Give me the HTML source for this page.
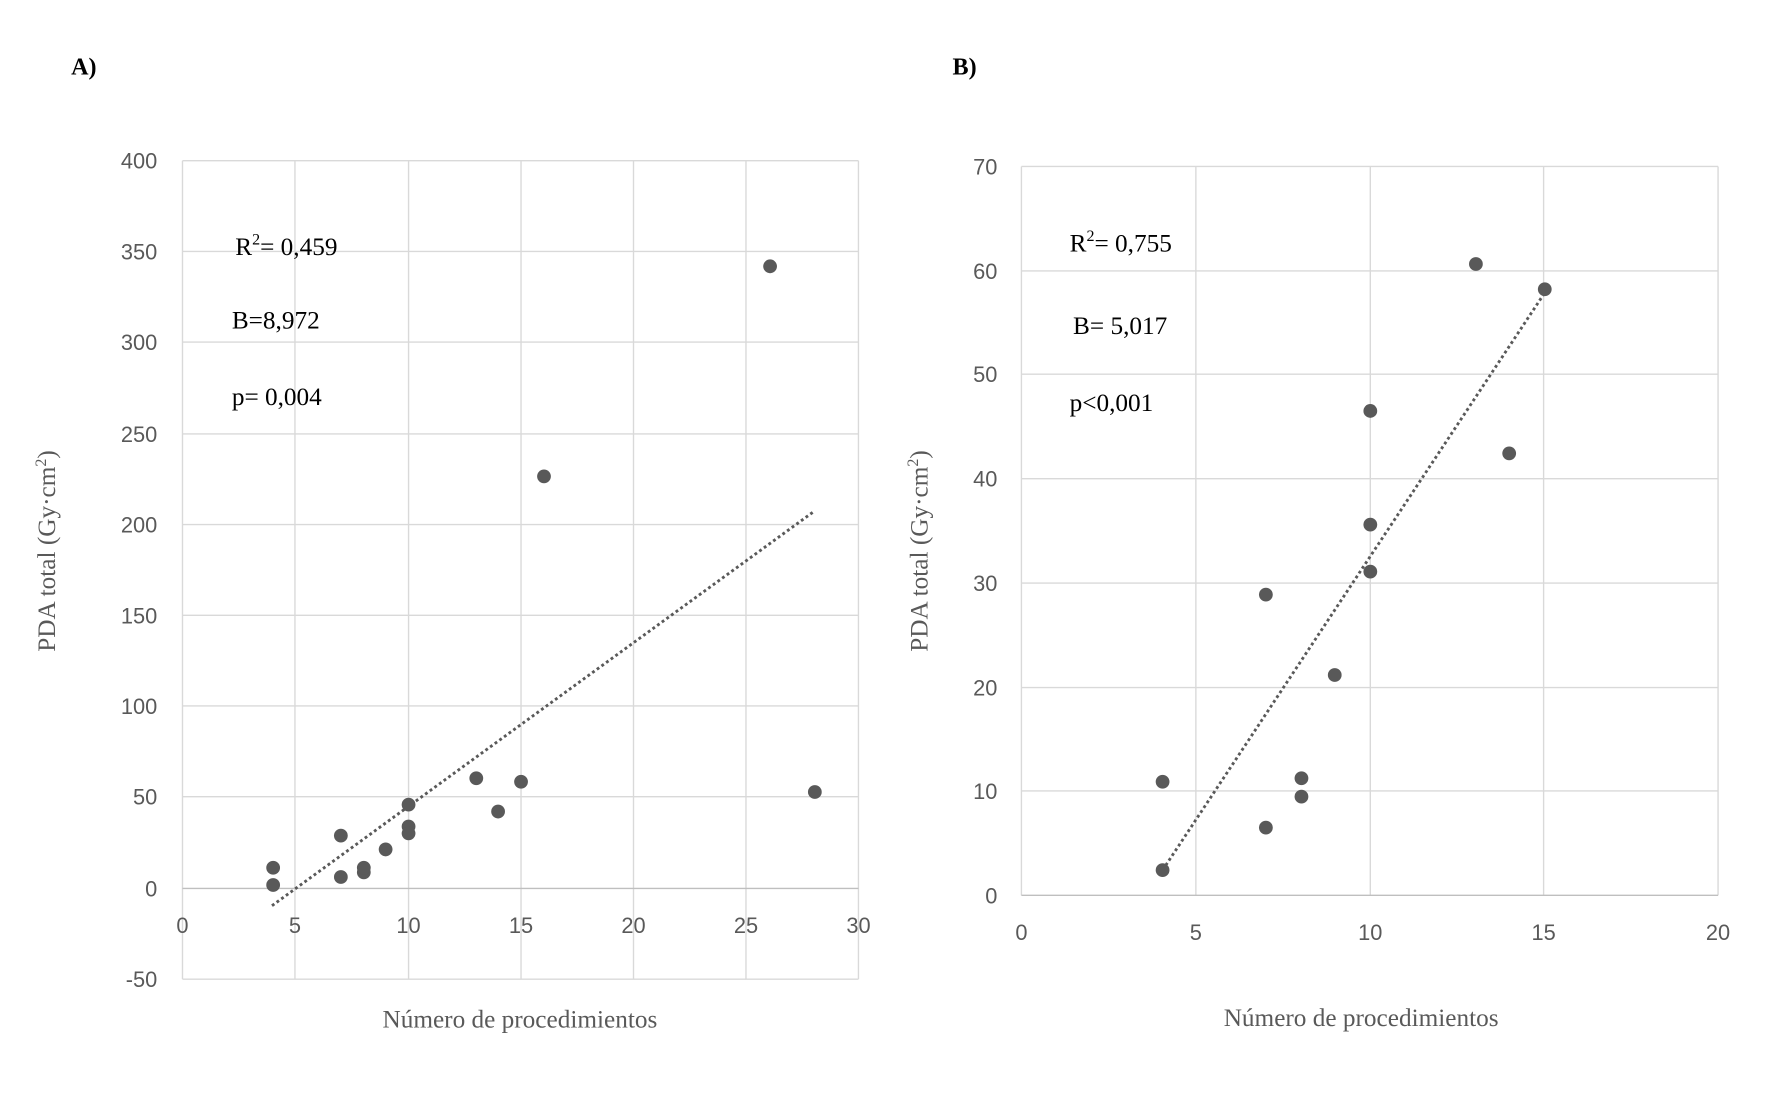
<!DOCTYPE html>
<html><head><meta charset="utf-8"><style>html,body{margin:0;padding:0;background:#fff;}svg{display:block}</style></head>
<body>
<svg width="1772" height="1110" viewBox="0 0 1544 967" preserveAspectRatio="none" xmlns="http://www.w3.org/2000/svg">
<rect width="1544" height="967" fill="#fff"/>
<g font-family="Liberation Serif, serif" font-weight="bold" font-size="21" fill="#000">
<text x="62" y="65">A)</text><text x="830" y="65">B)</text>
</g>
<!-- Chart A -->
<g stroke="#d9d9d9" stroke-width="1.2" fill="none">
<line x1="159" y1="140" x2="748" y2="140"/><line x1="159" y1="219" x2="748" y2="219"/><line x1="159" y1="298" x2="748" y2="298"/><line x1="159" y1="378" x2="748" y2="378"/><line x1="159" y1="457" x2="748" y2="457"/><line x1="159" y1="536" x2="748" y2="536"/><line x1="159" y1="615" x2="748" y2="615"/><line x1="159" y1="694" x2="748" y2="694"/><line x1="159" y1="853" x2="748" y2="853"/>
<line x1="159" y1="140" x2="159" y2="853"/><line x1="257" y1="140" x2="257" y2="853"/><line x1="356" y1="140" x2="356" y2="853"/><line x1="454" y1="140" x2="454" y2="853"/><line x1="552" y1="140" x2="552" y2="853"/><line x1="650" y1="140" x2="650" y2="853"/><line x1="748" y1="140" x2="748" y2="853"/>
</g>
<line x1="159" y1="774" x2="748" y2="774" stroke="#bfbfbf" stroke-width="1.2"/>
<g font-family="Liberation Sans, sans-serif" font-size="19" fill="#595959" text-anchor="end">
<text x="137" y="147">400</text><text x="137" y="226">350</text><text x="137" y="305">300</text><text x="137" y="385">250</text><text x="137" y="464">200</text><text x="137" y="543">150</text><text x="137" y="622">100</text><text x="137" y="701">50</text><text x="137" y="781">0</text><text x="137" y="860">-50</text>
</g>
<g font-family="Liberation Sans, sans-serif" font-size="19" fill="#595959" text-anchor="middle">
<text x="159" y="813">0</text><text x="257" y="813">5</text><text x="356" y="813">10</text><text x="454" y="813">15</text><text x="552" y="813">20</text><text x="650" y="813">25</text><text x="748" y="813">30</text>
</g>
<line x1="237" y1="789" x2="710" y2="445" stroke="#595959" stroke-width="2.5" stroke-dasharray="2.5,2.5"/>
<g fill="#595959">
<circle cx="238" cy="756" r="6"/><circle cx="238" cy="771" r="6"/><circle cx="297" cy="728" r="6"/><circle cx="297" cy="764" r="6"/><circle cx="317" cy="760" r="6"/><circle cx="317" cy="756" r="6"/><circle cx="336" cy="740" r="6"/><circle cx="356" cy="701" r="6"/><circle cx="356" cy="720" r="6"/><circle cx="356" cy="726" r="6"/><circle cx="415" cy="678" r="6"/><circle cx="434" cy="707" r="6"/><circle cx="454" cy="681" r="6"/><circle cx="474" cy="415" r="6"/><circle cx="671" cy="232" r="6"/><circle cx="710" cy="690" r="6"/>
</g>
<g font-family="Liberation Serif, serif" font-size="22" fill="#000">
<text x="205" y="222">R<tspan font-size="14" dy="-9">2</tspan><tspan dy="9">= 0,459</tspan></text>
<text x="202" y="286">B=8,972</text>
<text x="202" y="353">p= 0,004</text>
</g>
<text transform="translate(48,480) rotate(-90)" text-anchor="middle" font-family="Liberation Serif, serif" font-size="22" fill="#595959">PDA total (Gy·cm<tspan font-size="14" dy="-8">2</tspan><tspan dy="8">)</tspan></text>
<text x="453" y="895" text-anchor="middle" font-family="Liberation Serif, serif" font-size="22" fill="#595959">Número de procedimientos</text>
<!-- Chart B -->
<g stroke="#d9d9d9" stroke-width="1.2" fill="none">
<line x1="890" y1="145" x2="1497" y2="145"/><line x1="890" y1="236" x2="1497" y2="236"/><line x1="890" y1="326" x2="1497" y2="326"/><line x1="890" y1="417" x2="1497" y2="417"/><line x1="890" y1="508" x2="1497" y2="508"/><line x1="890" y1="599" x2="1497" y2="599"/><line x1="890" y1="689" x2="1497" y2="689"/>
<line x1="890" y1="145" x2="890" y2="780"/><line x1="1042" y1="145" x2="1042" y2="780"/><line x1="1194" y1="145" x2="1194" y2="780"/><line x1="1345" y1="145" x2="1345" y2="780"/><line x1="1497" y1="145" x2="1497" y2="780"/>
</g>
<line x1="890" y1="780" x2="1497" y2="780" stroke="#bfbfbf" stroke-width="1.2"/>
<g font-family="Liberation Sans, sans-serif" font-size="19" fill="#595959" text-anchor="end">
<text x="869" y="152">70</text><text x="869" y="243">60</text><text x="869" y="333">50</text><text x="869" y="424">40</text><text x="869" y="515">30</text><text x="869" y="606">20</text><text x="869" y="696">10</text><text x="869" y="787">0</text>
</g>
<g font-family="Liberation Sans, sans-serif" font-size="19" fill="#595959" text-anchor="middle">
<text x="890" y="819">0</text><text x="1042" y="819">5</text><text x="1194" y="819">10</text><text x="1345" y="819">15</text><text x="1497" y="819">20</text>
</g>
<line x1="1013" y1="758" x2="1346" y2="255" stroke="#595959" stroke-width="2.5" stroke-dasharray="2.5,2.5"/>
<g fill="#595959">
<circle cx="1013" cy="681" r="6"/><circle cx="1013" cy="758" r="6"/><circle cx="1103" cy="518" r="6"/><circle cx="1103" cy="721" r="6"/><circle cx="1134" cy="678" r="6"/><circle cx="1134" cy="694" r="6"/><circle cx="1163" cy="588" r="6"/><circle cx="1194" cy="358" r="6"/><circle cx="1194" cy="457" r="6"/><circle cx="1194" cy="498" r="6"/><circle cx="1286" cy="230" r="6"/><circle cx="1315" cy="395" r="6"/><circle cx="1346" cy="252" r="6"/>
</g>
<g font-family="Liberation Serif, serif" font-size="22" fill="#000">
<text x="932" y="219">R<tspan font-size="14" dy="-9">2</tspan><tspan dy="9">= 0,755</tspan></text>
<text x="935" y="291">B= 5,017</text>
<text x="932" y="358">p&lt;0,001</text>
</g>
<text transform="translate(808,480) rotate(-90)" text-anchor="middle" font-family="Liberation Serif, serif" font-size="22" fill="#595959">PDA total (Gy·cm<tspan font-size="14" dy="-8">2</tspan><tspan dy="8">)</tspan></text>
<text x="1186" y="894" text-anchor="middle" font-family="Liberation Serif, serif" font-size="22" fill="#595959">Número de procedimientos</text>
</svg>
</body></html>
